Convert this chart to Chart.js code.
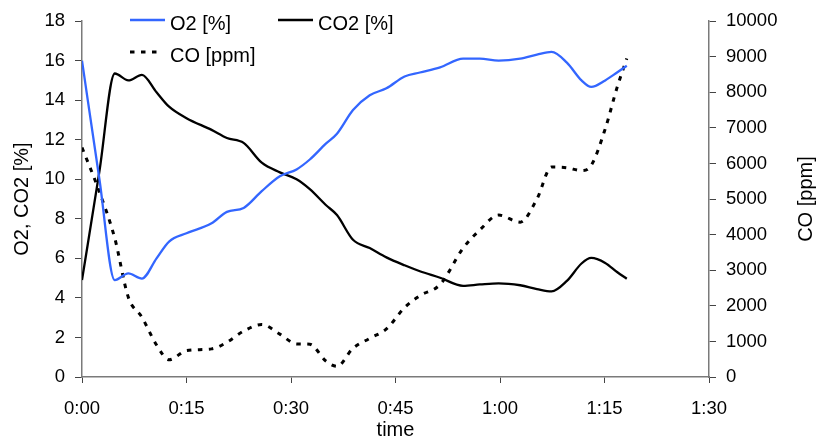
<!DOCTYPE html>
<html>
<head>
<meta charset="utf-8">
<script src="https://cdn.jsdelivr.net/npm/chart.js@4.4.1/dist/chart.umd.min.js"></script>
<style>
html,body{margin:0;padding:0;background:#fff;}
#wrap{width:820px;height:442px;position:relative;}
</style>
</head>
<body>
<div id="wrap"><canvas id="c" width="820" height="442"></canvas></div>
<script>
// time in minutes
const timeMin = [0, 2.5, 4.7, 6.65, 8.6, 10.7, 12.5, 15, 18.6, 20.8, 23.2, 25.8, 28.4, 30.8, 32.7, 35.0, 36.6, 38.9, 41.3, 43.7, 46.3, 48.5, 51.4, 54.7, 57.1, 59.8, 62.9, 65.3, 67.4, 69.6, 71.7, 73.1, 75.1, 76.8, 78.2];
const o2Pct  = [16.0, 10.0, 4.9, 5.24, 4.98, 6.0, 6.85, 7.27, 7.77, 8.35, 8.55, 9.4, 10.15, 10.5, 11.0, 11.8, 12.3, 13.5, 14.25, 14.6, 15.2, 15.4, 15.66, 16.1, 16.1, 16.0, 16.1, 16.3, 16.44, 15.9, 15.0, 14.67, 15.0, 15.4, 15.74];
const co2Pct = [4.9, 10.4, 15.35, 15.0, 15.28, 14.4, 13.67, 13.09, 12.5, 12.09, 11.84, 10.84, 10.35, 10.0, 9.5, 8.7, 8.19, 6.94, 6.52, 6.05, 5.65, 5.35, 5.02, 4.61, 4.68, 4.74, 4.64, 4.45, 4.33, 4.86, 5.74, 6.02, 5.77, 5.31, 4.97];
const coPpm  = [6450, 5200, 3900, 2240, 1680, 900, 485, 742, 790, 975, 1290, 1474, 1205, 930, 920, 450, 300, 809, 1086, 1350, 1950, 2285, 2600, 3620, 4130, 4550, 4350, 5000, 5900, 5880, 5800, 5950, 6970, 8130, 8950];

const seriesLabels = ['O2 [%]', 'CO2 [%]', 'CO [ppm]'];
const xTickValues = [0, 15, 30, 45, 60, 75, 90];
const leftTitle = 'O2, CO2 [%]';
const rightTitle = 'CO [ppm]';
const xTitle = 'time';

const FONT = '"Liberation Sans", Arial, sans-serif';
const pts = arr => timeMin.map((t, i) => ({x: t, y: arr[i]}));
const fmtTime = v => Math.floor(v / 60) + ':' + String(Math.round(v % 60)).padStart(2, '0');

const overlay = {
  id: 'overlay',
  afterDraw(chart) {
    const ctx = chart.ctx;
    const ds = chart.data.datasets;
    ctx.save();
    ctx.font = '20px ' + FONT;
    ctx.fillStyle = '#000';
    ctx.textBaseline = 'alphabetic';
    ctx.textAlign = 'left';
    const items = [{i: 0, x: 130, y: 20, len: 35, tx: 170}, {i: 1, x: 278, y: 20, len: 35, tx: 318}, {i: 2, x: 130, y: 52, len: 29, tx: 170}];
    items.forEach(it => {
      const d = ds[it.i];
      ctx.beginPath();
      ctx.strokeStyle = d.borderColor;
      ctx.lineWidth = d.borderWidth;
      ctx.setLineDash(d.borderDash || []);
      ctx.moveTo(it.x, it.y);
      ctx.lineTo(it.x + it.len, it.y);
      ctx.stroke();
      ctx.setLineDash([]);
      ctx.fillText(d.label, it.tx, it.y + 9.5);
    });
    const sc = chart.scales.y2;
    ctx.translate(806, (sc.top + sc.bottom) / 2);
    ctx.rotate(-Math.PI / 2);
    ctx.textAlign = 'center';
    ctx.textBaseline = 'middle';
    ctx.fillText(rightTitle, 0, 0);
    ctx.restore();
  }
};

const tickFont = {family: FONT, size: 18.5};
const axisBorder = {color: '#7a7a7a', width: 1.5};
const gridCfg = {drawOnChartArea: false, drawTicks: true, tickLength: 7, color: '#444', lineWidth: 1};
const lineCommon = {pointRadius: 0, cubicInterpolationMode: 'monotone', fill: false};

new Chart(document.getElementById('c'), {
  type: 'line',
  data: {
    datasets: [
      Object.assign({label: seriesLabels[0], data: pts(o2Pct), yAxisID: 'y', borderColor: '#3366ff', borderWidth: 2.3}, lineCommon),
      Object.assign({label: seriesLabels[1], data: pts(co2Pct), yAxisID: 'y', borderColor: '#000000', borderWidth: 2.3}, lineCommon),
      Object.assign({label: seriesLabels[2], data: pts(coPpm), yAxisID: 'y2', borderColor: '#000000', borderWidth: 3, borderDash: [4.5, 6.5]}, lineCommon)
    ]
  },
  options: {
    responsive: false,
    animation: false,
    devicePixelRatio: 1,
    layout: {padding: {top: 16, left: 0, right: 0, bottom: 0}},
    plugins: {legend: {display: false}, tooltip: {enabled: false}, title: {display: false}},
    scales: {
      x: {
        type: 'linear', min: 0, max: 90,
        afterBuildTicks: s => { s.ticks = xTickValues.map(v => ({value: v})); },
        afterFit: s => { s.height = 65; },
        ticks: {font: tickFont, color: '#000', padding: 15, autoSkip: false, maxRotation: 0, callback: v => fmtTime(v)},
        grid: Object.assign({}, gridCfg, {tickLength: 6}),
        border: axisBorder,
        title: {display: true, text: xTitle, font: {family: FONT, size: 20}, color: '#000', padding: {top: 0, bottom: 0}}
      },
      y: {
        type: 'linear', position: 'left', min: 0, max: 18,
        afterFit: s => { s.width = 82; },
        ticks: {font: tickFont, color: '#000', stepSize: 2, padding: 10, callback: v => String(v)},
        grid: gridCfg,
        border: axisBorder,
        title: {display: true, text: leftTitle, font: {family: FONT, size: 20}, color: '#000', padding: {top: 10, bottom: 0}}
      },
      y2: {
        type: 'linear', position: 'right', min: 0, max: 10000,
        afterFit: s => { s.width = 111; },
        ticks: {font: tickFont, color: '#000', stepSize: 1000, padding: 10, callback: v => String(v)},
        grid: gridCfg,
        border: axisBorder
      }
    }
  },
  plugins: [overlay]
});
</script>
</body>
</html>
